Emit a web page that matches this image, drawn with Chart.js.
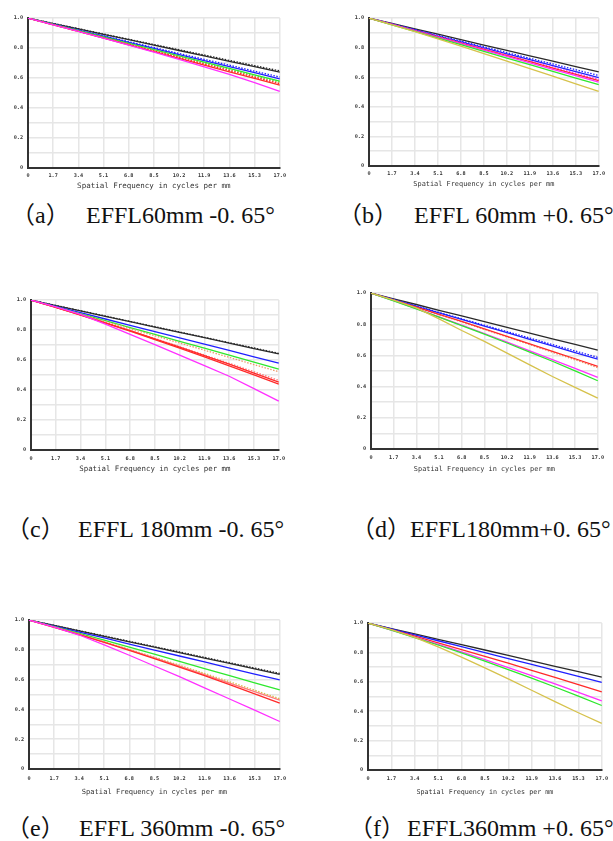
<!DOCTYPE html>
<html><head><meta charset="utf-8">
<script src="https://cdn.jsdelivr.net/npm/chart.js@4.4.0/dist/chart.umd.min.js"></script>
<style>
html,body{margin:0;padding:0;background:#fff;width:613px;height:841px;overflow:hidden;position:relative}
canvas{position:absolute}
.cap{position:absolute;font-family:"Liberation Serif","Noto Sans CJK SC",serif;font-size:24px;line-height:24px;color:#111;white-space:pre}
</style></head><body>
<script>
// ---- data ----
const freqLabels = ["0","1.7","3.4","5.1","6.8","8.5","10.2","11.9","13.6","15.3","17.0"];
const yLabels = ["0","0.2","0.4","0.6","0.8","1.0"];
const xTitle = "Spatial Frequency in cycles per mm";
const captionTags = ["（a）","（b）","（c）","（d）","（e）","（f）"];
const captionTexts = ["EFFL60mm -0. 65°","EFFL 60mm +0. 65°","EFFL 180mm -0. 65°","EFFL180mm+0. 65°","EFFL 360mm -0. 65°","EFFL360mm +0. 65°"];

// panel (a)
const aBlackT  = [1,.964,.928,.892,.856,.820,.784,.748,.712,.676,.640];
const aBlackS  = [1,.965,.930,.894,.859,.824,.789,.754,.718,.683,.648];
const aBlueT   = [1,.960,.919,.879,.838,.798,.757,.717,.676,.636,.595];
const aBlueS   = [1,.961,.921,.882,.843,.804,.764,.725,.686,.646,.607];
const aGreenT  = [1,.958,.916,.874,.832,.790,.748,.706,.664,.622,.580];
const aGreenS  = [1,.957,.914,.872,.829,.786,.743,.700,.658,.615,.572];
const aOrangeS = [1,.957,.913,.870,.826,.783,.740,.696,.653,.609,.566];
const aRedT    = [1,.955,.911,.866,.821,.777,.732,.687,.642,.598,.553];
const aRedS    = [1,.956,.912,.869,.825,.781,.737,.693,.650,.606,.562];
const aMagenta = [1,.955,.912,.866,.820,.773,.725,.675,.624,.569,.512];
// panel (b)
const bBlack   = [1,.964,.927,.891,.854,.818,.782,.745,.709,.672,.636];
const bBlueS   = [1,.961,.922,.884,.845,.806,.767,.728,.690,.651,.612];
const bBlueT   = [1,.960,.920,.879,.839,.799,.759,.719,.678,.638,.598];
const bRed     = [1,.958,.916,.873,.831,.789,.747,.705,.662,.620,.578];
const bMagT    = [1,.957,.914,.870,.827,.784,.741,.698,.654,.611,.568];
const bMagS    = [1,.959,.917,.876,.834,.793,.751,.710,.668,.627,.585];
const bGreen   = [1,.955,.910,.865,.820,.775,.730,.685,.640,.595,.550];
const bYellow  = [1,.955,.908,.860,.810,.760,.709,.658,.607,.556,.505];
// panel (c)
const cBlackT  = [1,.964,.928,.892,.856,.820,.785,.749,.713,.677,.641];
const cBlackS  = [1,.965,.929,.894,.858,.823,.787,.752,.716,.681,.645];
const cBlueT   = [1,.958,.916,.874,.832,.790,.748,.706,.664,.622,.580];
const cGreenT  = [1,.955,.909,.863,.817,.771,.725,.679,.633,.586,.540];
const cOrangeS = [1,.953,.905,.858,.810,.762,.714,.666,.618,.570,.522];
const cRedS    = [1,.952,.902,.851,.798,.744,.689,.634,.578,.522,.465];
const cRedT2   = [1,.952,.901,.849,.796,.742,.686,.630,.573,.513,.453];
const cRedT    = [1,.951,.900,.847,.793,.737,.680,.621,.561,.501,.440];
const cMagenta = [1,.955,.905,.840,.772,.703,.633,.563,.492,.410,.326];
// panel (d)
const dBlack   = [1,.963,.927,.890,.854,.817,.780,.744,.707,.671,.634];
const dBlueS   = [1,.959,.918,.876,.835,.794,.753,.712,.670,.629,.588];
const dBlueT   = [1,.958,.915,.873,.831,.789,.746,.704,.662,.619,.577];
const dOrangeS = [1,.955,.909,.862,.815,.767,.719,.670,.621,.572,.522];
const dRedT    = [1,.955,.910,.864,.818,.771,.723,.675,.627,.579,.530];
const dMagenta = [1,.951,.900,.848,.795,.741,.685,.629,.573,.517,.460];
const dGreen   = [1,.950,.899,.846,.792,.737,.680,.622,.563,.501,.438];
const dYellow  = [1,.955,.905,.835,.760,.690,.615,.540,.465,.395,.326];
// panel (e)
const eBlackT  = [1,.964,.927,.891,.854,.818,.782,.745,.709,.672,.636];
const eBlackS  = [1,.965,.929,.894,.858,.822,.786,.750,.714,.678,.642];
const eBlue    = [1,.960,.920,.880,.839,.799,.759,.719,.678,.638,.598];
const eGreen   = [1,.956,.911,.865,.818,.771,.723,.675,.627,.579,.531];
const eOrangeS = [1,.954,.906,.856,.804,.751,.697,.642,.586,.529,.472];
const ePink    = [1,.953,.904,.853,.800,.746,.691,.634,.577,.520,.462];
const eRed     = [1,.952,.902,.850,.796,.741,.685,.627,.566,.505,.442];
const eMagenta = [1,.953,.900,.834,.764,.692,.620,.545,.470,.395,.319];
// panel (f)
const fBlack   = [1,.963,.927,.890,.853,.817,.780,.743,.706,.670,.633];
const fBlue    = [1,.960,.920,.880,.840,.799,.759,.719,.678,.637,.597];
const fRed     = [1,.956,.911,.866,.820,.774,.727,.679,.631,.582,.532];
const fMagenta = [1,.953,.905,.856,.804,.751,.697,.642,.586,.528,.470];
const fGreen   = [1,.952,.902,.851,.797,.741,.684,.626,.565,.503,.439];
const fYellow  = [1,.955,.903,.838,.768,.695,.620,.543,.465,.390,.317];

// ---- styles ----
const C = {black:'#2a2a2a', blue:'#2020ff', green:'#2ee82e', red:'#ff2a2a', magenta:'#ff30ff',
           yellow:'#d6c24c', orange:'#ec9a6a', pink:'#ff7a7a'};
function ds(data, color, dotted){
  return {data, borderColor:color, borderWidth:1.3, pointRadius:0, tension:0,
          borderDash: dotted ? [1.5,1.5] : [], fill:false};
}
const panels = [
  {L:28, R:283, T:18, B:168, LC:176, TC:186, tf:7.5, sets:[
    ds(aMagenta,C.magenta), ds(aRedT,C.red), ds(aRedS,C.red,true), ds(aOrangeS,C.orange,true),
    ds(aGreenS,C.green,true), ds(aGreenT,C.green), ds(aBlueT,C.blue), ds(aBlueS,C.blue,true),
    ds(aBlackT,C.black), ds(aBlackS,C.black,true)]},
  {L:369, R:602, T:18, B:166, LC:174, TC:184, tf:6.9, sets:[
    ds(bYellow,C.yellow), ds(bGreen,C.green), ds(bMagT,C.magenta), ds(bRed,C.red),
    ds(bMagS,C.magenta,true), ds(bBlueT,C.blue), ds(bBlueS,C.blue,true), ds(bBlack,C.black)]},
  {L:31, R:283, T:300, B:450, LC:459, TC:469, tf:7.4, sets:[
    ds(cMagenta,C.magenta), ds(cRedT,C.red), ds(cRedT2,C.red), ds(cRedS,C.pink,true),
    ds(cOrangeS,C.orange,true), ds(cGreenT,C.green), ds(cBlueT,C.blue),
    ds(cBlackT,C.black), ds(cBlackS,C.black,true)]},
  {L:371, R:602, T:293, B:449, LC:458, TC:469, tf:6.9, sets:[
    ds(dYellow,C.yellow), ds(dGreen,C.green), ds(dMagenta,C.magenta), ds(dRedT,C.red),
    ds(dOrangeS,C.orange,true), ds(dBlueT,C.blue), ds(dBlueS,C.blue,true), ds(dBlack,C.black)]},
  {L:29, R:285, T:620, B:769, LC:779, TC:792, tf:7.1, sets:[
    ds(eMagenta,C.magenta), ds(eRed,C.red), ds(ePink,C.pink), ds(eOrangeS,C.yellow,true),
    ds(eGreen,C.green), ds(eBlue,C.blue), ds(eBlackT,C.black), ds(eBlackS,C.black,true)]},
  {L:368, R:606, T:623, B:770, LC:779, TC:792, tf:6.7, sets:[
    ds(fYellow,C.yellow), ds(fGreen,C.green), ds(fMagenta,C.magenta), ds(fRed,C.red),
    ds(fBlue,C.blue), ds(fBlack,C.black)]}
];
const YW = 28, PADT = 8, PADR = 8;
const capRows = [{base:223, tag:[11,338], txt:[86,414]},
                 {base:537, tag:[6,351], txt:[78,410]},
                 {base:836, tag:[6,349], txt:[79,407]}];

panels.forEach((p, i) => {
  const left = p.L - YW, top = p.T - PADT;
  const w = p.R + PADR - left, h = p.TC + 8 - top;
  const xH = h - PADT - (p.B - p.T);
  const cv = document.createElement('canvas');
  cv.width = w; cv.height = h;
  cv.style.left = left + 'px'; cv.style.top = top + 'px';
  cv.style.width = w + 'px'; cv.style.height = h + 'px';
  document.body.appendChild(cv);
  const tickFont = {family:'DejaVu Sans Mono', size:5.2, weight:'bold'};
  new Chart(cv, {
    type:'line',
    data:{labels:freqLabels, datasets:p.sets},
    options:{
      responsive:false, animation:false, devicePixelRatio:1,
      layout:{padding:{left:0, top:PADT, right:PADR, bottom:0}},
      plugins:{legend:{display:false}, tooltip:{enabled:false}},
      scales:{
        x:{type:'category', offset:false,
           grid:{color:'#e6e6e6', lineWidth:1.5, drawTicks:false},
           border:{color:'#333', width:2},
           ticks:{font:tickFont, color:'#333', padding:p.LC - p.B - 3, maxRotation:0, autoSkip:false},
           title:{display:true, text:xTitle, color:'#333',
                  font:{family:'DejaVu Sans Mono', size:p.tf}, padding:{top:0, bottom:3.5}},
           afterFit:(s)=>{ s.height = xH; }},
        y:{min:0, max:1,
           grid:{color:'#e6e6e6', lineWidth:1.5, drawTicks:false},
           border:{color:'#333', width:2},
           ticks:{stepSize:0.1, autoSkip:false, font:tickFont, color:'#333', padding:5,
                  callback:(v)=>{ const k=Math.round(v*10); return k%2===0 ? yLabels[k/2] : ''; }},
           afterFit:(s)=>{ s.width = YW; }}
      }
    }
  });
  const row = capRows[Math.floor(i/2)], col = i%2;
  const t1 = document.createElement('div'); t1.className='cap';
  t1.textContent = captionTags[i];
  t1.style.left = row.tag[col] + 'px'; t1.style.top = (row.base - 20) + 'px';
  const t2 = document.createElement('div'); t2.className='cap';
  t2.textContent = captionTexts[i];
  t2.style.left = row.txt[col] + 'px'; t2.style.top = (row.base - 20) + 'px';
  document.body.appendChild(t1); document.body.appendChild(t2);
});
</script>
</body></html>
